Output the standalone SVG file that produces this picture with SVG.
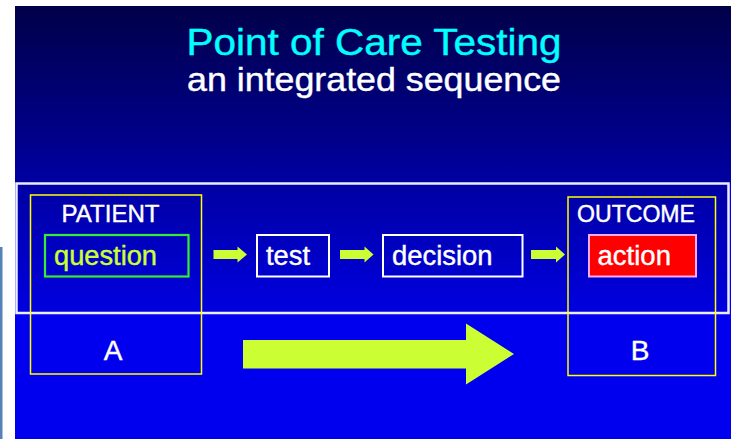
<svg xmlns="http://www.w3.org/2000/svg" width="731" height="439" viewBox="0 0 731 439">
  <defs>
    <linearGradient id="topGrad" x1="0" y1="0" x2="0" y2="1">
      <stop offset="0" stop-color="#000048"/>
      <stop offset="1" stop-color="#0000a2"/>
    </linearGradient>
    <linearGradient id="bandGrad" x1="0" y1="0" x2="0" y2="1">
      <stop offset="0" stop-color="#0000a2"/>
      <stop offset="1" stop-color="#0000e0"/>
    </linearGradient>
    <style>
      .t { font-family: "Liberation Sans", Arial, sans-serif; fill: #ffffff; stroke: #ffffff; stroke-width: 0.4; }
      .box { fill: none; stroke: #ffffff; stroke-width: 2; }
      .ybox { fill: none; stroke: #ffff00; stroke-width: 1.5; }
      .arr { fill: #ccff33; }
    </style>
  </defs>
  <rect x="0" y="0" width="731" height="439" fill="#ffffff"/>
  <rect x="0" y="247" width="2.5" height="192" fill="#5482b8"/>
  <rect x="15" y="6" width="716" height="178" fill="url(#topGrad)"/>
  <rect x="15" y="184" width="716" height="255" fill="#0000ee"/>
  <text class="t" x="374" y="55" text-anchor="middle" font-size="37" style="fill:#00ffff;stroke:#00ffff" textLength="375" lengthAdjust="spacingAndGlyphs">Point of Care Testing</text>
  <text class="t" x="374" y="91" text-anchor="middle" font-size="34" textLength="374" lengthAdjust="spacingAndGlyphs">an integrated sequence</text>

  <g id="band">
    <rect x="16.5" y="183.5" width="712" height="129.5" fill="url(#bandGrad)" stroke="#ececff" stroke-width="2.5"/>
  </g>

  <g id="connectors">
    <polygon class="arr" points="213.5,250 237.5,250 237.5,246.5 247,254.5 237.5,262.5 237.5,259 213.5,259"/>
    <polygon class="arr" points="340,250 364.5,250 364.5,246.5 373.5,254.5 364.5,262.5 364.5,259 340,259"/>
    <polygon class="arr" points="531,250 556,250 556,246.5 565,254.5 556,262.5 556,259 531,259"/>
    <polygon class="arr" points="243,340 466,340 466,323.5 514,354 466,384.5 466,368.5 243,368.5"/>
  </g>

  <g id="patient">
    <rect class="ybox" x="30.5" y="195" width="171" height="179"/>
    <text class="t" x="61.5" y="222" font-size="23" textLength="98" lengthAdjust="spacingAndGlyphs">PATIENT</text>
    <text class="t" x="113" y="360" font-size="28" text-anchor="middle">A</text>
  </g>
  <g id="question">
    <rect x="45" y="235" width="143.5" height="41.5" fill="none" stroke="#33ee33" stroke-width="2.2"/>
    <text class="t" x="54" y="265" font-size="27" style="fill:#ccff33;stroke:#ccff33" textLength="103" lengthAdjust="spacingAndGlyphs">question</text>
  </g>
  <g id="test">
    <rect class="box" x="257" y="235" width="72" height="41.5"/>
    <text class="t" x="266" y="265" font-size="27" textLength="44" lengthAdjust="spacingAndGlyphs">test</text>
  </g>
  <g id="decision">
    <rect class="box" x="383" y="235" width="139.5" height="41.5"/>
    <text class="t" x="392" y="265" font-size="27" textLength="100.5" lengthAdjust="spacingAndGlyphs">decision</text>
  </g>
  <g id="outcome">
    <rect class="ybox" x="568" y="197" width="147.5" height="178.5"/>
    <text class="t" x="577" y="222" font-size="23" textLength="118" lengthAdjust="spacingAndGlyphs">OUTCOME</text>
    <text class="t" x="640" y="360" font-size="28" text-anchor="middle">B</text>
  </g>
  <g id="action">
    <rect x="589" y="235" width="107" height="41.5" fill="#ff0000" stroke="#ffaaee" stroke-width="2"/>
    <text class="t" x="597.5" y="265" font-size="27" textLength="73.5" lengthAdjust="spacingAndGlyphs">action</text>
  </g>
</svg>
